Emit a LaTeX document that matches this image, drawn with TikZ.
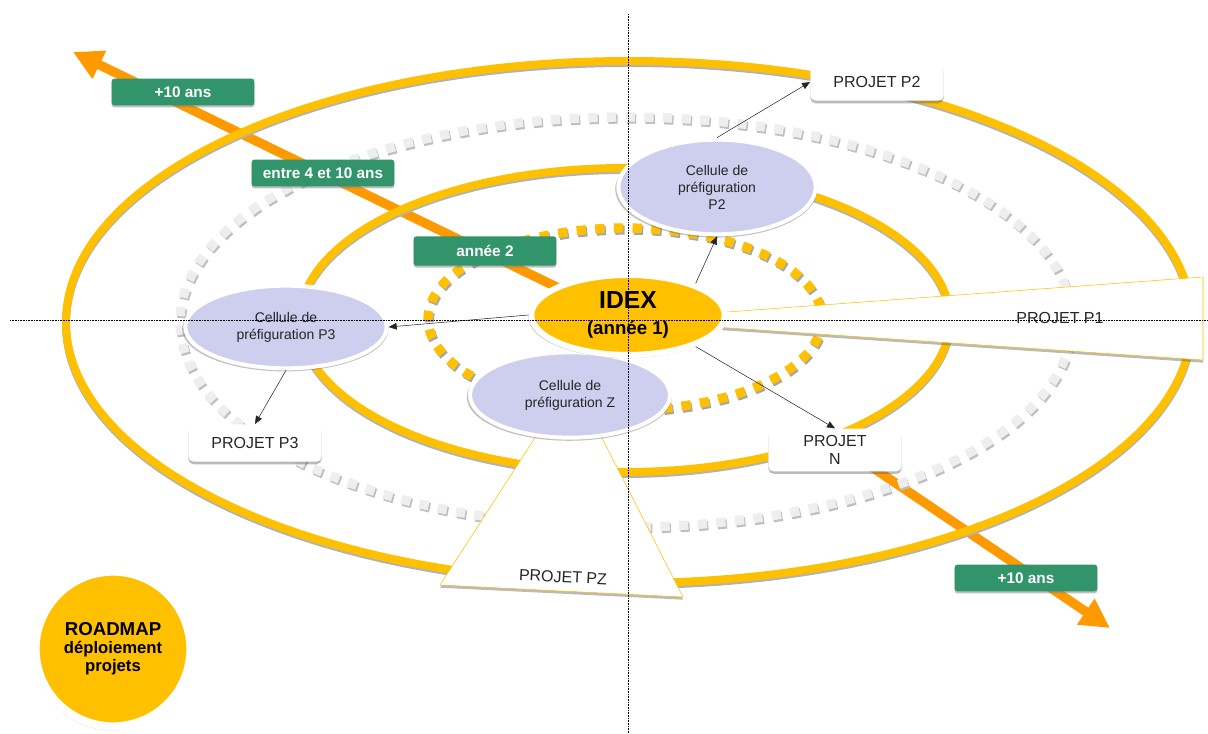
\documentclass[tikz,border=0pt]{standalone}
\usepackage{fontspec}
\setmainfont{Liberation Sans}
\usetikzlibrary{shapes,arrows.meta,shadows}

\definecolor{ocre}{RGB}{255,192,0}
\definecolor{orangefl}{RGB}{255,153,0}
\definecolor{lavande}{RGB}{206,206,238}
\definecolor{vert}{RGB}{50,148,106}
\definecolor{gris}{RGB}{238,238,238}

\tikzset{
  ring/.style={draw=ocre,line width=6pt},
  ringdessous/.style={draw=black!30,line width=6pt,yshift=-1.5pt},
  carres/.style={line width=7pt,dash pattern=on 7pt off 7pt},
  ombre/.style={drop shadow={shadow xshift=0pt,shadow yshift=-2pt,opacity=.45,fill=black!60}},
  ombreronde/.style={drop shadow={shadow xshift=-.5pt,shadow yshift=-1.5pt,shadow scale=1.025,opacity=.4,fill=black!60}},
  cell/.style={ellipse,fill=lavande,draw=white,line width=3pt,inner sep=0pt,align=center,
    text=black!85,font=\fontsize{10.5}{12.8}\selectfont,ombreronde},
  projet/.style={rectangle,rounded corners=4pt,fill=white,minimum width=100pt,minimum height=28pt,
    align=center,text=black!85,font=\fontsize{12}{13.5}\selectfont,ombre},
  age/.style={rectangle,rounded corners=2pt,fill=vert,text=white,minimum width=107pt,minimum height=20pt,
    font=\bfseries\fontsize{11.5}{13}\selectfont,drop shadow={shadow xshift=0pt,shadow yshift=-1.5pt,opacity=.5}},
  lien/.style={-{Triangle[length=6pt,width=5pt]},black!85,thin},
  fleche/.style={orangefl,line width=7pt,-{Triangle[length=22pt,width=22pt]}}
}

\begin{document}
\begin{tikzpicture}[x=0.75pt,y=-0.75pt]
  \useasboundingbox (0,0) rectangle (1208,734);
  % fleches du temps
  \coordinate (hgdep) at (575,296);
  \coordinate (hg) at (73,52);
  \coordinate (bddep) at (860,459);
  \coordinate (bd) at (1110,628);
  \draw[fleche] (hgdep) -- (hg);
  \draw[fleche] (bddep) -- (bd);

  % anneaux
  \draw[ringdessous] (629,322) ellipse [x radius=563,y radius=261];
  \draw[ring] (629,322) ellipse [x radius=563,y radius=261];
  \draw[carres,black!25,xshift=1pt,yshift=-1.5pt] (626,322) ellipse [x radius=446,y radius=205];
  \draw[carres,gris] (626,322) ellipse [x radius=446,y radius=205];
  \draw[ringdessous] (625,320) ellipse [x radius=325,y radius=152];
  \draw[ring] (625,320) ellipse [x radius=325,y radius=152];
  \draw[carres,black!35,xshift=1pt,yshift=-1.5pt] (625,319) ellipse [x radius=197,y radius=91];
  \draw[carres,ocre] (625,319) ellipse [x radius=197,y radius=91];

  % projets P1 et PZ
  \draw[ocre,thin,fill=white,ombre] (700,314) -- (1203,277) -- (1203,360) -- (700,326) -- cycle;
  \node[text=black!85,font=\fontsize{12}{14}\selectfont] (projP1) at (1060,318) {PROJET P1};
  \draw[ocre,thin,fill=white,ombre] (540,430) -- (598,430) -- (683,597) -- (440,585) -- cycle;
  \node[text=black!85,font=\fontsize{12}{14}\selectfont,rotate=-3] (projPZ) at (563,577) {PROJET PZ};

  % cellules
  \node[cell,minimum width=148pt,minimum height=71pt] (cellP2) at (717,187) {Cellule de\\préfiguration\\P2};
  \node[cell,minimum width=151pt,minimum height=62pt] (cellP3) at (286,327) {Cellule de\\préfiguration P3};
  \node[cell,minimum width=150pt,minimum height=64pt] (cellZ) at (570,395) {Cellule de\\préfiguration Z};
  \node[ellipse,fill=ocre,draw=white,line width=4.5pt,inner sep=0pt,minimum width=145pt,minimum height=60pt,
    align=center,font=\bfseries\fontsize{14}{19}\selectfont,ombreronde] (idex) at (628,315)
    {{\fontsize{18.5}{19}\selectfont IDEX}\\(année 1)};

  % projets
  \node[projet] (projP2) at (877,82) {PROJET P2};
  \node[projet] (projP3) at (255,443) {PROJET P3};
  \node[projet,minimum height=32pt] (projN) at (835,450) {PROJET\\N};

  \draw[lien] (idex.west) -- (cellP3.east);
  \draw[lien] (cellP3.south) -- (projP3.north);
  \draw[lien] (idex.25) -- (cellP2.south);
  \draw[lien] (cellP2.north) -- (projP2.west);
  \draw[lien] (idex.-25) -- (projN.north);

  % echeances
  \node[age] (dix1) at (183,92) {+10 ans};
  \node[age] (entre) at (323,173) {entre 4 et 10 ans};
  \node[age,minimum height=22pt] (an2) at (485,251) {année 2};
  \node[age] (dix2) at (1026,578) {+10 ans};

  \node[circle,fill=ocre,draw=white,line width=6pt,minimum size=116pt,inner sep=0pt,align=center,
    font=\bfseries\fontsize{12.5}{13.5}\selectfont,ombreronde] (roadmap) at (113,649)
    {{\fontsize{14}{13.5}\selectfont ROADMAP}\\déploiement\\projets};

  % axes
  \draw[densely dotted,very thin] (628,14) -- (628,734);
  \draw[densely dotted,very thin] (10,320) -- (1208,320);
\end{tikzpicture}
\end{document}
